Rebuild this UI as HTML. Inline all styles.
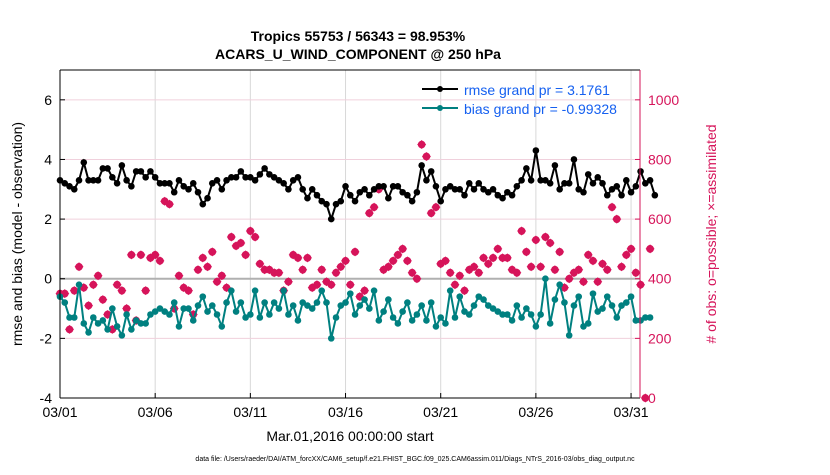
<!DOCTYPE html>
<html><head><meta charset="utf-8"><style>
body{margin:0;background:#fff;font-family:"Liberation Sans",sans-serif}
</style></head><body>
<svg id="c" width="830" height="470" xmlns="http://www.w3.org/2000/svg" font-family="Liberation Sans, sans-serif">
<text x="358" y="41" text-anchor="middle" font-size="14" font-weight="bold">Tropics 55753 / 56343 = 98.953%</text>
<text x="358" y="59" text-anchor="middle" font-size="14" font-weight="bold">ACARS_U_WIND_COMPONENT @ 250 hPa</text>
<g id="grid"></g><g id="marks"></g><g id="axes"></g>
<text transform="translate(22,234) rotate(-90)" text-anchor="middle" font-size="14">rmse and bias (model - observation)</text>
<text transform="translate(716,234) rotate(-90)" text-anchor="middle" font-size="14" fill="#d6145a"># of obs: o=possible; ×=assimilated</text>
<text x="350" y="441" text-anchor="middle" font-size="14">Mar.01,2016 00:00:00 start</text>
<text x="415" y="461" text-anchor="middle" font-size="7">data file: /Users/raeder/DAI/ATM_forcXX/CAM6_setup/f.e21.FHIST_BGC.f09_025.CAM6assim.011/Diags_NTrS_2016-03/obs_diag_output.nc</text>
<g>
<line x1="422" y1="89" x2="458" y2="89" stroke="#000" stroke-width="2"/><circle cx="440" cy="89" r="3" fill="#000"/>
<text x="464" y="95" font-size="14" fill="#1560f0">rmse grand pr = 3.1761</text>
<line x1="422" y1="108" x2="458" y2="108" stroke="#008080" stroke-width="2"/><circle cx="440" cy="108" r="3" fill="#008080"/>
<text x="464" y="114" font-size="14" fill="#1560f0">bias grand pr = -0.99328</text>
</g>
</svg>
<script>
const xTicks=[1,6,11,16,21,26,31];
const xTickLabels=["03/01","03/06","03/11","03/16","03/21","03/26","03/31"];
const leftTicks=[-4,-2,0,2,4,6];
const rightTicks=[0,200,400,600,800,1000];
const rmse=[3.3,3.2,3.1,3.0,3.3,3.9,3.3,3.3,3.3,3.7,3.7,3.4,3.2,3.8,3.3,3.1,3.6,3.6,3.4,3.6,3.4,3.2,3.2,3.2,2.9,3.3,3.1,3.0,3.2,2.9,2.5,2.7,3.2,3.3,3.0,3.3,3.4,3.4,3.6,3.4,3.4,3.3,3.5,3.7,3.5,3.4,3.3,3.2,3.0,3.3,3.4,3.0,2.7,3.0,2.8,2.6,2.5,2.0,2.5,2.6,3.1,2.8,2.6,2.9,3.0,2.8,3.0,3.1,3.1,2.7,3.1,3.1,2.9,2.8,2.6,2.9,3.8,3.3,3.6,3.1,2.6,3.0,3.1,3.0,3.0,2.8,3.2,3.0,3.2,3.0,2.9,3.0,2.8,2.7,2.9,2.8,3.1,3.3,3.7,3.3,4.3,3.3,3.3,3.2,3.8,3.0,3.2,3.2,4.0,3.0,2.9,3.5,3.2,3.4,3.2,2.8,3.0,3.1,2.8,3.3,2.9,3.1,3.6,3.2,3.3,2.8];
const bias=[-0.6,-0.8,-1.3,-1.3,-0.2,-1.5,-1.8,-1.3,-1.5,-1.4,-1.7,-1.0,-1.6,-1.9,-1.2,-1.7,-1.4,-1.5,-1.5,-1.2,-1.1,-1.0,-1.1,-1.2,-0.8,-1.6,-1.0,-1.0,-1.4,-0.9,-0.6,-1.1,-0.9,-1.2,-1.6,-0.8,-0.4,-1.1,-0.8,-1.3,-1.2,-0.4,-1.3,-0.8,-1.2,-0.8,-1.0,-0.4,-1.2,-0.9,-1.4,-0.8,-0.9,-1.0,-0.8,-0.4,-0.8,-2.0,-1.3,-0.9,-0.8,-0.5,-1.2,-0.9,-0.7,-1.0,-0.4,-1.4,-1.1,-0.7,-1.3,-1.5,-1.1,-0.8,-1.4,-1.2,-0.9,-1.4,-0.8,-1.6,-1.3,-1.5,-0.4,-1.3,-0.6,-1.1,-1.2,-0.9,-0.6,-0.7,-0.9,-1.0,-1.1,-1.2,-1.2,-1.4,-0.9,-1.3,-1.0,-1.2,-1.6,-1.2,0.0,-1.5,-0.7,-0.2,-0.8,-1.9,-0.9,-0.6,-1.6,-1.5,-0.5,-1.1,-1.0,-0.6,-0.9,-1.3,-0.9,-0.8,-0.6,-1.4,-1.4,-1.3,-1.3];
const obsPossible=[350,350,230,360,440,370,310,380,410,330,280,230,380,360,300,480,260,480,360,470,480,460,660,650,300,410,370,360,280,430,470,440,490,390,410,370,540,510,520,480,560,540,450,430,430,420,420,360,390,480,470,430,470,370,380,430,390,380,420,440,460,380,490,340,360,620,640,700,430,440,460,480,500,460,420,400,850,810,620,640,450,460,420,380,410,360,430,440,420,470,450,470,500,470,470,430,420,560,490,440,530,440,540,520,430,490,370,400,420,430,390,480,460,390,450,430,640,600,440,480,500,420,380,0,500];
const obsUsed=obsPossible.slice();
const L=60,R=640,T=70,B=398;
const xs=d=>L+(d-1)/30.47*(R-L);
const yl=v=>B-(v+4)/11*(B-T);
const yr=v=>B-v/1100*(B-T);
const NS="http://www.w3.org/2000/svg";
function mk(p,t,a){const e=document.createElementNS(NS,t);for(const k in a)e.setAttribute(k,a[k]);p.appendChild(e);return e;}
const grid=document.getElementById('grid'),marks=document.getElementById('marks'),axes=document.getElementById('axes');
xTicks.forEach((d,i)=>{
 const g=mk(grid,'line',{x1:xs(d),x2:xs(d),y1:T,y2:B,stroke:'#d8d8d8','stroke-width':1});
 
 
 const t=mk(axes,'text',{x:xs(d),y:B+19,'text-anchor':'middle','font-size':14});
 t.textContent=xTickLabels[i];
 
 
 mk(axes,'line',{x1:xs(d),x2:xs(d),y1:B,y2:B-5,stroke:'#000'});
});
leftTicks.forEach(v=>{
 if(v!==0&&v!==-4){const g=mk(grid,'line',{x1:L,x2:R,y1:yl(v),y2:yl(v),stroke:'#f0d0dc','stroke-width':1});
 
 }
 const t=mk(axes,'text',{x:L-8,y:yl(v)+5,'text-anchor':'end','font-size':14});
 t.textContent=v;
 
 
 mk(axes,'line',{x1:L,x2:L+5,y1:yl(v),y2:yl(v),stroke:'#000'});
});
const z=mk(grid,'line',{x1:L,x2:R,y1:yl(0),y2:yl(0),stroke:'#b0b0b0','stroke-width':2});


rightTicks.forEach(v=>{
 const t=mk(axes,'text',{x:R+8,y:yr(v)+5,'font-size':14,fill:'#d6145a'});
 t.textContent=v;
 
 
 mk(axes,'line',{x1:R,x2:R-5,y1:yr(v),y2:yr(v),stroke:'#d6145a'});
});
mk(axes,'line',{x1:L,x2:L,y1:T,y2:B,stroke:'#000'});
mk(axes,'line',{x1:L,x2:R,y1:B,y2:B,stroke:'#000'});
mk(axes,'line',{x1:L,x2:R,y1:T,y2:T,stroke:'#000'});
mk(axes,'line',{x1:R,x2:R,y1:T,y2:B,stroke:'#d6145a'});
obsPossible.forEach((v,i)=>{
 const x=xs(1+i*0.25),y=yr(v);
 const c=mk(marks,'circle',{cx:x,cy:y,r:3.2,fill:'none',stroke:'#d6145a','stroke-width':1.3});
 
 
});
obsUsed.forEach((v,i)=>{
 const x=xs(1+i*0.25),y=yr(v);
 const p=mk(marks,'path',{d:`M${x-4.5},${y}L${x},${y-4.5}L${x+4.5},${y}L${x},${y+4.5}Z`,fill:'#d6145a'});
 
 
});
function series(arr,col,name){
 const pts=arr.map((v,i)=>xs(1+i*0.25)+','+yl(v)).join(' ');
 const pl=mk(marks,'polyline',{points:pts,fill:'none',stroke:col,'stroke-width':2});
 
 
 arr.forEach((v,i)=>{
  const c=mk(marks,'circle',{cx:xs(1+i*0.25),cy:yl(v),r:3.3,fill:col});
  
  
 });
}
series(rmse,'#000','rmse');
series(bias,'#008080','bias');
</script>
</body></html>
